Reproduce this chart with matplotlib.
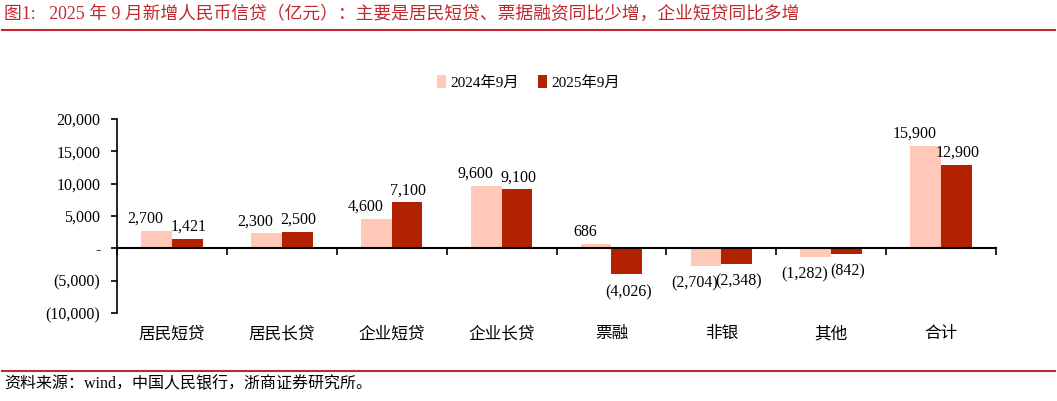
#!/usr/bin/env python3

from matplotlib import pyplot as plt
from matplotlib import ticker
import numpy as np

plt.rcParams['font.family'] = ['Liberation Serif', 'Noto Sans CJK SC']

categories = ['居民短贷', '居民长贷', '企业短贷', '企业长贷', '票融', '非银', '其他', '合计']
sep_2024 = [2700, 2300, 4600, 9600, 686, -2704, -1282, 15900]
sep_2025 = [1421, 2500, 7100, 9100, -4026, -2348, -842, 12900]
series_names = ['2024年9月', '2025年9月']

pink = '#FFC8B9'
red = '#B22200'
title_red = '#C0282D'


def acct(v, pos=None):
    if v == 0:
        return '-'
    if v < 0:
        return f'({-v:,.0f})'
    return f'{v:,.0f}'


fig = plt.figure(figsize=(10.57, 4.01), dpi=100)
ax = fig.add_axes([0.1107, 0.2195, 0.8316, 0.4837])

x = np.arange(len(categories))
width = 0.28
b1 = ax.bar(x - width / 2, sep_2024, width, color=pink, label=series_names[0])
b2 = ax.bar(x + width / 2, sep_2025, width, color=red, label=series_names[1])

# data labels: the pink ones sit a bit to the left so pairs don't collide
for rects, dx in ((b1, -8), (b2, 1)):
    for r in rects:
        h = r.get_height()
        xc = r.get_x() + r.get_width() / 2
        if h >= 0:
            ax.annotate(acct(h), (xc, h), xytext=(dx, 3), textcoords='offset points',
                        ha='center', va='bottom', fontsize=11.5)
        else:
            ax.annotate(acct(h), (xc, h), xytext=(dx, -7), textcoords='offset points',
                        ha='center', va='top', fontsize=11.5)

ax.set_xlim(-0.5, len(categories) - 0.5)
ax.set_ylim(-10000, 20000)
ax.yaxis.set_major_locator(ticker.MultipleLocator(5000))
ax.yaxis.set_major_formatter(ticker.FuncFormatter(acct))
ax.tick_params(axis='y', labelsize=11.5, length=4, width=1.2, direction='out', pad=8)

# x axis sits on zero; boundary ticks as minor, names at the bottom
ax.spines['bottom'].set_position(('data', 0))
ax.spines['bottom'].set_linewidth(1.5)
ax.spines['left'].set_linewidth(1.2)
for s in ('top', 'right'):
    ax.spines[s].set_visible(False)
ax.set_xticks(x)
ax.set_xticklabels([])
ax.set_xticks(np.arange(len(categories) + 1) - 0.5, minor=True)
ax.tick_params(axis='x', which='major', length=0)
ax.tick_params(axis='x', which='minor', length=5, width=1.2, direction='out')
for i, c in enumerate(categories):
    ax.text(i, -0.11, c, transform=ax.get_xaxis_transform(),
            ha='center', va='center', fontsize=12)

fig.legend(loc='center', bbox_to_anchor=(0.50, 0.795), ncols=2, frameon=False,
           fontsize=11, handlelength=0.6, handleheight=0.9, handletextpad=0.3,
           columnspacing=1.2)

fig.text(0.004, 0.965, '图1:   2025 年 9 月新增人民币信贷（亿元）：主要是居民短贷、票据融资同比少增，企业短贷同比多增',
         color=title_red, fontsize=12.8, ha='left', va='center')
fig.add_artist(plt.Line2D([0.002, 0.998], [0.924, 0.924], color=title_red, lw=1.5))
fig.add_artist(plt.Line2D([0.002, 0.998], [0.075, 0.075], color=title_red, lw=1.5))
fig.text(0.004, 0.042, '资料来源：wind，中国人民银行，浙商证券研究所。',
         fontsize=11.5, ha='left', va='center')

plt.savefig('out.png', dpi=100)
plt.close()
